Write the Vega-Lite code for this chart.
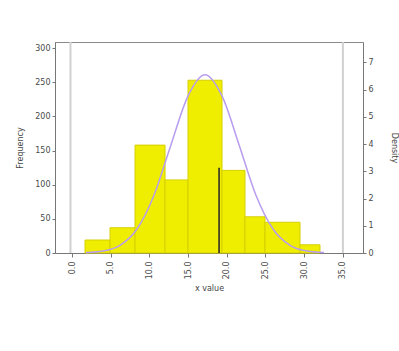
{
  "$schema": "https://vega.github.io/schema/vega-lite/v6.json",
  "width": 308,
  "height": 211,
  "autosize": {"type": "none"},
  "padding": {"left": 55, "top": 42, "right": 36, "bottom": 98},
  "background": "white",
  "config": {
    "view": {"stroke": "#8a8a8a", "strokeWidth": 1},
    "axis": {
      "labelFont": "DejaVu Sans", "labelFontSize": 8, "labelColor": "#4a4a4a",
      "titleFont": "DejaVu Sans", "titleFontSize": 8, "titleFontWeight": "normal", "titleColor": "#444444",
      "domainColor": "#777777", "tickColor": "#777777", "grid": false, "labelOverlap": false
    }
  },
  "datasets": {
    "bins": [
      {"start": 1.68, "end": 4.91, "count": 19},
      {"start": 4.91, "end": 8.14, "count": 37},
      {"start": 8.14, "end": 12.02, "count": 158},
      {"start": 12.02, "end": 14.99, "count": 107},
      {"start": 14.99, "end": 19.38, "count": 253},
      {"start": 19.38, "end": 22.35, "count": 121},
      {"start": 22.35, "end": 24.94, "count": 53},
      {"start": 24.94, "end": 29.46, "count": 45},
      {"start": 29.46, "end": 32.04, "count": 12}
    ],
    "curve": [
      {"x": 1.81, "density": 0.015},
      {"x": 4.0, "density": 0.07},
      {"x": 6.2, "density": 0.28},
      {"x": 8.4, "density": 0.88},
      {"x": 10.59, "density": 2.12},
      {"x": 12.79, "density": 3.98},
      {"x": 14.99, "density": 5.77},
      {"x": 17.18, "density": 6.55},
      {"x": 19.38, "density": 5.77},
      {"x": 21.58, "density": 3.98},
      {"x": 23.77, "density": 2.12},
      {"x": 25.97, "density": 0.88},
      {"x": 28.17, "density": 0.28},
      {"x": 30.36, "density": 0.07},
      {"x": 32.56, "density": 0.015}
    ],
    "limits": [
      {"x": -0.2},
      {"x": 35}
    ],
    "center": [
      {"x": 19.0, "y0": 0, "y1": 125}
    ]
  },
  "layer": [
    {
      "layer": [
        {
          "data": {"name": "bins"},
          "mark": {"type": "rect", "fill": "#f0ee00", "stroke": "#d6cf00", "strokeWidth": 1},
          "encoding": {
            "x": {
              "field": "start", "type": "quantitative",
              "scale": {"domain": [-2.2, 37.6], "nice": false, "zero": false},
              "axis": {"values": [0, 5, 10, 15, 20, 25, 30, 35], "format": ".1f", "labelAngle": -90, "labelPadding": 4, "title": "x value", "titlePadding": 6, "tickSize": 4}
            },
            "x2": {"field": "end"},
            "y": {
              "field": "count", "type": "quantitative",
              "scale": {"domain": [0, 309], "nice": false},
              "axis": {"orient": "left", "values": [0, 50, 100, 150, 200, 250, 300], "title": "Frequency", "titlePadding": 10, "tickSize": 3}
            },
            "y2": {"datum": 0}
          }
        },
        {
          "data": {"name": "limits"},
          "mark": {"type": "rule", "color": "#d0d0d0", "strokeWidth": 2},
          "encoding": {
            "x": {"field": "x", "type": "quantitative",
              "axis": {"values": [0, 5, 10, 15, 20, 25, 30, 35], "format": ".1f", "labelAngle": -90, "labelPadding": 4, "title": "x value", "titlePadding": 6, "tickSize": 4}}
          }
        },
        {
          "data": {"name": "center"},
          "mark": {"type": "rule", "color": "#222222", "strokeWidth": 1.5},
          "encoding": {
            "x": {"field": "x", "type": "quantitative",
              "axis": {"values": [0, 5, 10, 15, 20, 25, 30, 35], "format": ".1f", "labelAngle": -90, "labelPadding": 4, "title": "x value", "titlePadding": 6, "tickSize": 4}},
            "y": {"field": "y0", "type": "quantitative",
              "axis": {"orient": "left", "values": [0, 50, 100, 150, 200, 250, 300], "title": "Frequency", "titlePadding": 10, "tickSize": 3}},
            "y2": {"field": "y1"}
          }
        }
      ]
    },
    {
      "data": {"name": "curve"},
      "mark": {"type": "line", "color": "#b89cf0", "strokeWidth": 1.5, "interpolate": "monotone"},
      "encoding": {
        "x": {"field": "x", "type": "quantitative",
          "axis": {"values": [0, 5, 10, 15, 20, 25, 30, 35], "format": ".1f", "labelAngle": -90, "labelPadding": 4, "title": "x value", "titlePadding": 6, "tickSize": 4}},
        "y": {
          "field": "density", "type": "quantitative",
          "scale": {"domain": [0, 7.75], "nice": false},
          "axis": {"orient": "right", "values": [0, 1, 2, 3, 4, 5, 6, 7], "title": "Density", "titlePadding": 16, "tickSize": 3}
        }
      }
    }
  ],
  "resolve": {"scale": {"y": "independent"}}
}
